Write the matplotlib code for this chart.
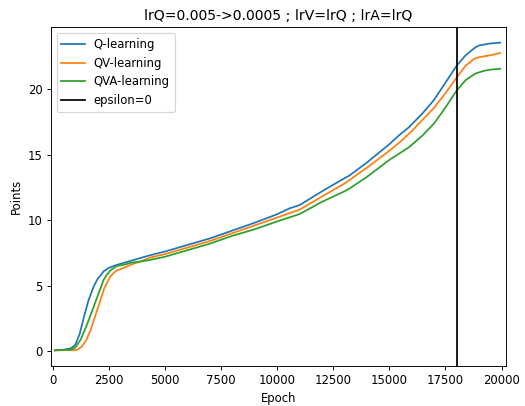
# Points per epoch for the three learners
import matplotlib
matplotlib.use("Agg")
import matplotlib.pyplot as plt

q_epochs = [100, 500, 800, 1000, 1200, 1390, 1600, 1830, 2000, 2275, 2500, 2720, 3000, 3500,
            4000, 4346, 5000, 6000, 7000, 7672, 8000, 9000, 10000, 10554, 11000, 12000, 13000,
            13215, 14000, 15000, 15446, 15876, 16500, 17000, 17500, 18000, 18400, 18833, 19000,
            19500, 19940]
q_points = [0.05, 0.1, 0.2, 0.45, 1.3, 2.6, 3.9, 4.95, 5.5, 6.1, 6.35, 6.5, 6.65, 6.9,
            7.15, 7.32, 7.6, 8.1, 8.6, 9.0, 9.2, 9.8, 10.45, 10.9, 11.15, 12.2, 13.2,
            13.4, 14.4, 15.8, 16.5, 17.1, 18.2, 19.2, 20.5, 21.8, 22.6, 23.2, 23.35,
            23.5, 23.56]

qv_epochs = [100, 800, 1095, 1300, 1500, 1685, 1900, 2130, 2300, 2570, 2800, 3160, 3500,
             4000, 4346, 5000, 6000, 7000, 8000, 9000, 10000, 11000, 12000, 13000, 14000,
             15000, 15500, 16000, 16500, 17000, 17500, 18000, 18400, 18800, 19000, 19500, 19940]
qv_points = [0.05, 0.06, 0.08, 0.35, 0.85, 1.6, 2.7, 3.9, 4.8, 5.7, 6.1, 6.35, 6.6,
             6.9, 7.14, 7.4, 7.9, 8.4, 9.0, 9.6, 10.2, 10.8, 11.8, 12.8, 14.0,
             15.3, 16.0, 16.8, 17.7, 18.6, 19.7, 20.9, 21.8, 22.35, 22.45, 22.6, 22.77]

qva_epochs = [100, 800, 1000, 1240, 1500, 1700, 1830, 2000, 2275, 2400, 2600, 2870, 3200,
              3500, 4000, 4346, 5000, 6000, 7000, 8000, 9000, 10000, 11000, 12000, 13000,
              13215, 14000, 15000, 15876, 16500, 17000, 17500, 18000, 18400, 18833, 19200,
              19500, 19940]
qva_points = [0.05, 0.1, 0.25, 0.85, 1.9, 2.8, 3.4, 4.2, 5.46, 5.8, 6.2, 6.5, 6.6,
              6.75, 6.85, 6.96, 7.2, 7.7, 8.2, 8.8, 9.3, 9.9, 10.46, 11.4, 12.2,
              12.4, 13.3, 14.6, 15.57, 16.5, 17.4, 18.6, 19.9, 20.7, 21.2, 21.4,
              21.5, 21.57]

epsilon_zero = 18000

fig = plt.figure(figsize=(6.25, 406 / 84), dpi=84)
ax = fig.add_axes([50.7 / 525, 1 - 365.7 / 406, (506 - 50.7) / 525, (365.7 - 27.3) / 406])

ax.plot(q_epochs, q_points, label="Q-learning", linewidth=1.5)
ax.plot(qv_epochs, qv_points, label="QV-learning", linewidth=1.5)
ax.plot(qva_epochs, qva_points, label="QVA-learning", linewidth=1.5)
ax.axvline(epsilon_zero, color="black", label="epsilon=0", linewidth=1.5)

ax.set_xlim(-90, 20200)
ax.set_xticks(range(0, 20001, 2500))
ax.set_title("lrQ=0.005->0.0005 ; lrV=lrQ ; lrA=lrQ")
ax.set_xlabel("Epoch")
ax.set_ylabel("Points")
ax.legend(loc="upper left")

fig.savefig("out.png", dpi=84)
plt.close()
